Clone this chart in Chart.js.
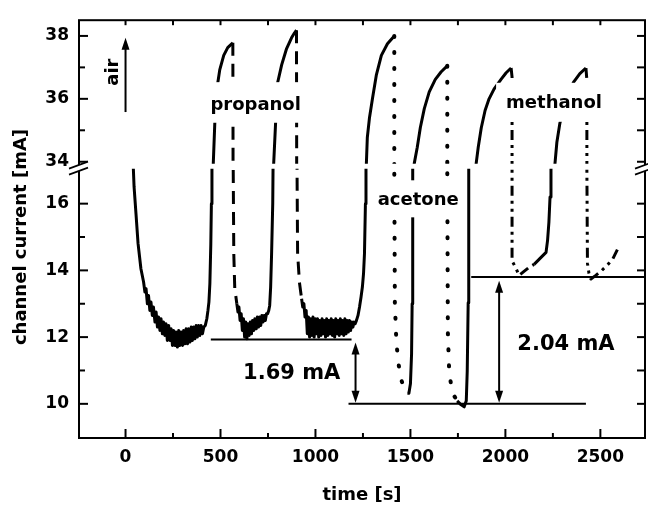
<!DOCTYPE html>
<html>
<head>
<meta charset="utf-8">
<script src="https://cdn.jsdelivr.net/npm/chart.js@4.4.1/dist/chart.umd.min.js"></script>
<style>
  html, body { margin: 0; padding: 0; background: #fff; }
</style>
</head>
<body>
<canvas id="sensor-chart" width="648" height="506"></canvas>
<script>
// axis ticks
const xTicks = [0, 500, 1000, 1500, 2000, 2500];
const xMinorTicks = [250, 750, 1250, 1750, 2250];
const lowTicks = [10, 12, 14, 16];
const lowMinorTicks = [11, 13, 15];
const highTicks = [34, 36, 38];
const highMinorTicks = [35, 37];

// air recovery parts (solid line), null = break between cycles
const airTime = [
  38, 45, 55, 66, 81, 95, 102, 108, 115, 121, 128, 134, 141, 147, 155, 161, 168, 174, 181, 187,
  194, 200, 207, 213, 220, 227, 234, 240, 247, 253, 260, 266, 273, 280, 286, 293, 300, 306, 312, 319,
  326, 332, 339, 346, 352, 359, 365, 372, 378, 385, 391, 398, 405, 412, 420, 428, 434, 439, 444, 449,
  452, 455, 462, 470, 486, 496, 517, 538, 559, 565, null,
  586, 592, 597, 603, 609, 615, 621, 627, 633, 639, 645, 651, 657, 663, 669, 675, 681, 688, 694, 700,
  706, 712, 718, 724, 730, 736, 742, 748, 754, 759, 764, 769, 775, 777,
  780, 790, 801, 822, 848, 874, 890, 900, null,
  927, 933, 939, 945, 951, 957, 963, 969, 975, 981, 987, 993, 999, 1005, 1011, 1017, 1023, 1029, 1035, 1041,
  1047, 1053, 1059, 1065, 1071, 1077, 1083, 1089, 1095, 1101, 1107, 1113, 1119, 1125, 1131, 1137, 1143, 1149, 1155, 1161,
  1167, 1173, 1179, 1185, 1191, 1197, 1203, 1209, 1216, 1224, 1232, 1240, 1247, 1253, 1258, 1263, 1266,
  1268, 1273, 1284, 1300, 1321, 1347, 1379, 1415, null,
  1484, 1492, 1500, 1506, 1509, 1512, 1520, 1536, 1552, 1573, 1599, 1631, 1662, 1694, null,
  1746, 1767, 1783, 1794, 1799, 1804, 1807, 1846, 1857, 1873, 1893, 1914, 1940, 1977, 2004, 2030, null,
  2151, 2214, 2222, 2229, 2235, 2240, 2244, 2261, 2271, 2287, 2313, 2340, 2361, 2392, 2424
];
const airCurrent = [
  17.5, 16.5, 15.7, 14.8, 14.05, 13.65, 13.35, 13.45, 13.0, 13.25, 12.8, 13.05, 12.65, 12.9, 12.45, 12.75, 12.3, 12.6, 12.2, 12.55,
  12.1, 12.45, 12.05, 12.4, 11.9, 12.35, 11.9, 12.25, 11.75, 12.2, 11.75, 12.15, 11.7, 12.2, 11.75, 12.15, 11.75, 12.2, 11.8, 12.25,
  11.8, 12.25, 11.85, 12.3, 11.9, 12.3, 11.95, 12.35, 12.0, 12.35, 12.05, 12.35, 12.1, 12.3, 12.35, 12.55, 12.8, 13.05, 13.6, 14.8,
  16.0, 17.3, 33.94, 35.23, 36.52, 36.92, 37.38, 37.63, 37.75, 37.78, null,
  13.0, 12.75, 12.9, 12.5, 12.7, 12.2, 12.55, 12.0, 12.45, 11.95, 12.4, 12.05, 12.45, 12.1, 12.5, 12.2, 12.55, 12.25, 12.6, 12.3,
  12.6, 12.35, 12.65, 12.45, 12.65, 12.5, 12.7, 12.7, 12.8, 12.95, 13.5, 14.5, 16.0, 17.3,
  33.94, 35.23, 36.52, 37.08, 37.6, 37.94, 38.1, 38.18, null,
  13.15, 12.9, 13.0, 12.6, 12.8, 12.1, 12.6, 12.0, 12.55, 12.05, 12.6, 12.0, 12.55, 12.1, 12.55, 12.0, 12.5, 12.05, 12.55, 12.1,
  12.5, 12.0, 12.55, 12.05, 12.5, 12.1, 12.55, 12.05, 12.5, 12.0, 12.55, 12.1, 12.5, 12.05, 12.55, 12.1, 12.5, 12.05, 12.55, 12.1,
  12.5, 12.15, 12.5, 12.2, 12.45, 12.3, 12.45, 12.4, 12.5, 12.65, 12.9, 13.2, 13.5, 13.9, 14.5, 16.0, 17.3,
  33.94, 34.77, 35.38, 36.0, 36.77, 37.38, 37.75, 38.0, null,
  10.32, 10.32, 10.6, 11.5, 13.0, 17.3, 33.94, 34.46, 35.08, 35.69, 36.22, 36.62, 36.86, 37.05, null,
  10.09, 9.97, 9.91, 10.09, 10.97, 13.03, 17.3, 33.94, 34.46, 35.08, 35.63, 36.0, 36.31, 36.62, 36.83, 36.98, null,
  14.18, 14.54, 14.9, 15.44, 16.2, 17.02, 17.4, 33.94, 34.62, 35.23, 35.85, 36.31, 36.55, 36.8, 36.98
];

// gas exposures
const propanolTime = [565, 566, 567, 570, 575, 586, null, 900, 901, 903, 906, 916, 927];
const propanolCurrent = [37.78, 34.5, 17.0, 14.5, 13.47, 13.0, null, 38.18, 34.5, 17.0, 14.5, 13.62, 13.15];

const acetoneTime = [1415, 1415, 1415, 1418, 1426, 1436, 1447, 1462, 1484, null,
  1694, 1694, 1694, 1697, 1704, 1715, 1730, 1746];
const acetoneCurrent = [38.0, 34.5, 17.0, 13.03, 11.85, 11.26, 10.82, 10.53, 10.32, null,
  37.05, 34.5, 17.0, 12.15, 10.97, 10.53, 10.24, 10.09];

const methanolTime = [2030, 2035, 2035, 2035, 2035, 2056, 2072, 2098, 2124, 2151, null,
  2424, 2429, 2429, 2429, 2432, 2440, 2450, 2476, 2508, 2545, 2566, 2592];
const methanolCurrent = [36.98, 36.7, 34.5, 17.0, 14.29, 14.06, 13.85, 13.97, 14.09, 14.18, null,
  36.98, 36.6, 34.5, 17.0, 14.21, 13.91, 13.74, 13.85, 14.0, 14.21, 14.35, 14.65];

// reference levels used for the two offsets
const levelCurrent = [11.93, 10.0, 13.8];
const levelFrom = [449, 1174, 1820];
const levelTo = [1190, 2424, 2735];

const boldFont = size => ({ family: 'DejaVu Sans', size: size, weight: 'bold' });

function toPoints(times, currents) {
  return times.map((t, i) => ({ x: t, y: currents[i] }));
}

function fixedTicks(list) {
  return scale => { scale.ticks = list.map(v => ({ value: v })); };
}

const lineStyles = [
  { times: airTime, currents: airCurrent, dash: [], cap: 'butt', width: 3 },
  { times: propanolTime, currents: propanolCurrent, dash: [13, 8], cap: 'butt', width: 3 },
  { times: acetoneTime, currents: acetoneCurrent, dash: [1, 15], cap: 'round', width: 4 },
  { times: methanolTime, currents: methanolCurrent, dash: [10, 5, 3, 5, 3, 5], cap: 'butt', width: 3 }
];

// every curve goes on both halves of the broken axis
let datasets = [];
lineStyles.forEach(s => {
  ['yLow', 'yHigh'].forEach(axis => {
    datasets.push({
      data: toPoints(s.times, s.currents),
      yAxisID: axis,
      showLine: true,
      pointRadius: 0,
      borderColor: '#000',
      borderWidth: s.width,
      borderDash: s.dash,
      borderCapStyle: s.cap,
      borderJoinStyle: 'round',
      spanGaps: false
    });
  });
});

const brokenAxis = {
  id: 'brokenAxis',
  beforeDatasetDraw(chart, args) {
    const ys = chart.scales[args.meta.yAxisID];
    const a = chart.chartArea;
    const top = ys.id === 'yLow' ? ys.top + 2 : a.top;
    const bottom = ys.id === 'yLow' ? a.bottom : ys.bottom - 3;
    chart.ctx.save();
    chart.ctx.beginPath();
    chart.ctx.rect(a.left, top, a.right - a.left, bottom - top);
    chart.ctx.clip();
  },
  afterDatasetDraw(chart) {
    chart.ctx.restore();
  },
  afterDatasetsDraw(chart) {
    const { ctx, chartArea: a, scales } = chart;
    const x = v => scales.x.getPixelForValue(v);
    const lo = v => scales.yLow.getPixelForValue(v);
    const hi = v => scales.yHigh.getPixelForValue(v);
    const seg = (x1, y1, x2, y2) => { ctx.beginPath(); ctx.moveTo(x1, y1); ctx.lineTo(x2, y2); ctx.stroke(); };
    const head = (px, py, dir) => {
      ctx.beginPath();
      ctx.moveTo(px, py);
      ctx.lineTo(px - 4, py - dir * 12);
      ctx.lineTo(px + 4, py - dir * 12);
      ctx.closePath();
      ctx.fill();
    };
    ctx.save();
    ctx.fillStyle = '#fff';
    // white boxes under the gas names
    const box = (x1, y1, x2, y2) => ctx.fillRect(x1, y1, x2 - x1, y2 - y1);
    box(x(418), hi(36.53), x(943), hi(35.24));
    box(x(1279), lo(16.70), x(1783), lo(15.59));
    box(x(1951), hi(36.51), x(2534), hi(35.27));

    ctx.fillStyle = '#000';
    ctx.strokeStyle = '#000';
    ctx.textAlign = 'center';
    ctx.textBaseline = 'middle';
    ctx.font = 'bold 18px "DejaVu Sans"';
    ctx.fillText('propanol', x(685), hi(35.80));
    ctx.fillText('acetone', x(1541), lo(16.09));
    ctx.fillText('methanol', x(2256), hi(35.86));

    // air arrow
    ctx.lineWidth = 2;
    seg(x(0), hi(35.58), x(0), hi(37.94) + 10);
    head(x(0), hi(37.94), -1);
    ctx.save();
    ctx.translate(x(-66), hi(36.85));
    ctx.rotate(-Math.PI / 2);
    ctx.fillText('air', 0, 0);
    ctx.restore();

    // reference levels and offsets
    levelCurrent.forEach((c, i) => seg(x(levelFrom[i]), lo(c), x(levelTo[i]), lo(c)));
    const dbl = (t, c1, c2) => {
      seg(x(t), lo(c1) + 10, x(t), lo(c2) - 10);
      head(x(t), lo(c1), -1);
      head(x(t), lo(c2), 1);
    };
    dbl(1211, 11.84, 10.03);
    dbl(1967, 13.69, 10.03);
    ctx.font = 'bold 21px "DejaVu Sans"';
    ctx.fillText('1.69 mA', x(875), lo(10.91));
    ctx.fillText('2.04 mA', x(2319), lo(11.79));

    // frame and inward ticks
    ctx.lineWidth = 2;
    ctx.strokeRect(a.left, a.top, a.right - a.left, a.bottom - a.top);
    xTicks.forEach(v => { seg(x(v), a.bottom, x(v), a.bottom - 9); seg(x(v), a.top, x(v), a.top + 5); });
    xMinorTicks.forEach(v => { seg(x(v), a.bottom, x(v), a.bottom - 5); seg(x(v), a.top, x(v), a.top + 5); });
    lowTicks.forEach(v => { seg(a.left, lo(v), a.left + 9, lo(v)); seg(a.right, lo(v), a.right - 8, lo(v)); });
    lowMinorTicks.forEach(v => { seg(a.left, lo(v), a.left + 6, lo(v)); seg(a.right, lo(v), a.right - 8, lo(v)); });
    highTicks.forEach(v => { seg(a.left, hi(v), a.left + 9, hi(v)); seg(a.right, hi(v), a.right - 8, hi(v)); });
    highMinorTicks.forEach(v => { seg(a.left, hi(v), a.left + 6, hi(v)); seg(a.right, hi(v), a.right - 8, hi(v)); });

    // axis break marks
    const yb = scales.yLow.top;
    [a.left, a.right].forEach(bx => {
      ctx.fillStyle = '#fff';
      ctx.beginPath();
      ctx.moveTo(bx - 10, yb + 2);
      ctx.lineTo(bx + 9, yb - 5);
      ctx.lineTo(bx + 9, yb + 1);
      ctx.lineTo(bx - 10, yb + 8);
      ctx.closePath();
      ctx.fill();
      ctx.lineWidth = 1.6;
      seg(bx - 10, yb + 2, bx + 9, yb - 5);
      seg(bx - 10, yb + 8, bx + 9, yb + 1);
    });

    // y axis title
    ctx.fillStyle = '#000';
    ctx.font = 'bold 18px "DejaVu Sans"';
    ctx.translate(21, 237);
    ctx.rotate(-Math.PI / 2);
    ctx.fillText('channel current [mA]', 0, 0);
    ctx.restore();
  }
};

const yCommon = {
  type: 'linear',
  position: 'left',
  stack: 'current',
  grid: { display: false, drawTicks: false },
  border: { display: false },
  ticks: { font: boldFont(17), color: '#000', padding: 10 },
  afterFit: s => { s.width = 79; }
};

new Chart(document.getElementById('sensor-chart'), {
  type: 'scatter',
  data: { datasets: datasets },
  options: {
    responsive: false,
    animation: false,
    devicePixelRatio: 1,
    layout: { padding: { left: 0, right: 3, top: 10, bottom: 0 } },
    plugins: { legend: { display: false }, tooltip: { enabled: false } },
    scales: {
      x: {
        type: 'linear',
        min: -245,
        max: 2735,
        grid: { display: false, drawTicks: false },
        border: { display: false },
        afterBuildTicks: fixedTicks(xTicks),
        ticks: { font: boldFont(17), color: '#000', padding: 9, maxRotation: 0, callback: v => String(v) },
        title: { display: true, text: 'time [s]', color: '#000', font: boldFont(18), padding: { top: 0, bottom: 0 } },
        afterFit: s => { s.height = 68; }
      },
      yLow: Object.assign({}, yCommon, { min: 8.976, max: 17.11, stackWeight: 278, afterBuildTicks: fixedTicks(lowTicks) }),
      yHigh: Object.assign({}, yCommon, { min: 33.845, max: 38.5, stackWeight: 150, afterBuildTicks: fixedTicks(highTicks) })
    }
  },
  plugins: [brokenAxis]
});
</script>
</body>
</html>
